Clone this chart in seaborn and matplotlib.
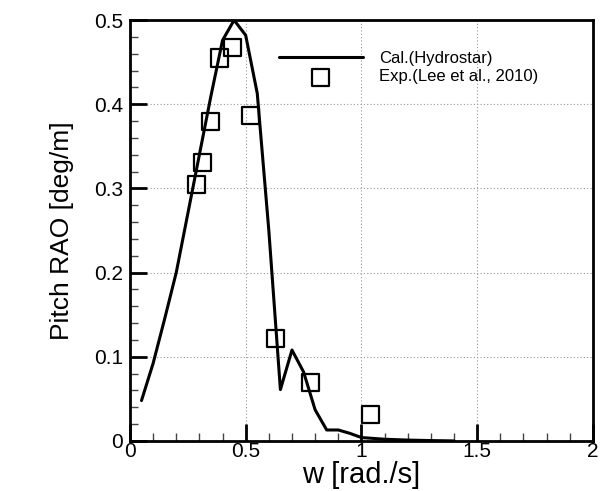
import matplotlib
matplotlib.use("Agg")
import matplotlib.pyplot as plt
import seaborn as sns
import pandas as pd
from matplotlib.ticker import MultipleLocator, FuncFormatter

# Calculation (Hydrostar)
cal_w = [0.05, 0.10, 0.15, 0.20, 0.25, 0.30, 0.35, 0.40, 0.45, 0.50, 0.55, 0.60,
         0.65, 0.70, 0.75, 0.80, 0.85, 0.90, 0.95, 1.00, 1.10, 1.20, 1.30, 1.40]
cal_rao = [0.048, 0.092, 0.145, 0.200, 0.270, 0.340, 0.410, 0.476, 0.500, 0.482, 0.413, 0.250,
           0.061, 0.108, 0.082, 0.037, 0.013, 0.013, 0.009, 0.004, 0.002, 0.001, 0.0004, 0.0]

# Experiment (Lee et al., 2010)
exp_w = [0.288, 0.314, 0.346, 0.386, 0.442, 0.519, 0.627, 0.781, 1.040]
exp_rao = [0.305, 0.331, 0.380, 0.455, 0.467, 0.387, 0.122, 0.070, 0.031]

sns.set_style("white")
plt.rcParams['font.family'] = ['Liberation Sans', 'DejaVu Sans']
plt.rcParams['text.color'] = 'black'
plt.rcParams['axes.labelcolor'] = 'black'
plt.rcParams['xtick.color'] = 'black'
plt.rcParams['ytick.color'] = 'black'

cal_df = pd.DataFrame({"w": cal_w, "rao": cal_rao})
exp_df = pd.DataFrame({"w": exp_w, "rao": exp_rao})

fig = plt.figure(figsize=(6.10, 4.91), dpi=100)
ax = fig.add_axes([0.213, 0.102, 0.759, 0.857])

sns.lineplot(data=cal_df, x="w", y="rao", ax=ax, color="black", linewidth=2.2,
             sort=False, label="Cal.(Hydrostar)", zorder=3)
sns.scatterplot(data=exp_df, x="w", y="rao", ax=ax, marker="s", s=150,
                facecolors="none", edgecolor="black", linewidth=1.6,
                label="Exp.(Lee et al., 2010)", zorder=4)

ax.set_xlim(0, 2)
ax.set_ylim(0, 0.5)
ax.xaxis.set_major_locator(MultipleLocator(0.5))
ax.xaxis.set_minor_locator(MultipleLocator(0.1))
ax.yaxis.set_major_locator(MultipleLocator(0.1))
ax.yaxis.set_minor_locator(MultipleLocator(0.02))
fmt = FuncFormatter(lambda v, p: "%g" % round(v, 3))
ax.xaxis.set_major_formatter(fmt)
ax.yaxis.set_major_formatter(fmt)

ax.tick_params(which="major", direction="in", length=12, width=2, labelsize=15,
               colors="black", bottom=True, left=True, top=False, right=False)
ax.tick_params(axis="y", which="major", pad=5)
ax.tick_params(axis="x", which="major", pad=1)
ax.tick_params(which="minor", direction="in", length=6, width=1, color="#444444",
               bottom=True, left=True, top=False, right=False)
for s in ax.spines.values():
    s.set_visible(True)
    s.set_linewidth(2)
    s.set_color("black")

ax.grid(True, which="major", linestyle=(0, (1, 2)), color="#999999", linewidth=0.8)
ax.set_axisbelow(True)

ax.set_xlabel("w [rad./s]", fontsize=21, labelpad=0, color="black")
ax.set_ylabel("Pitch RAO [deg/m]", fontsize=19, labelpad=14, color="black")

leg = ax.legend(loc="upper left", bbox_to_anchor=(0.29, 0.962), frameon=False, fontsize=12,
                handlelength=5.0, handletextpad=1.0, labelspacing=0.2, markerscale=1.0)
for t in leg.get_texts():
    t.set_color("black")

fig.savefig("out.png", dpi=100)
